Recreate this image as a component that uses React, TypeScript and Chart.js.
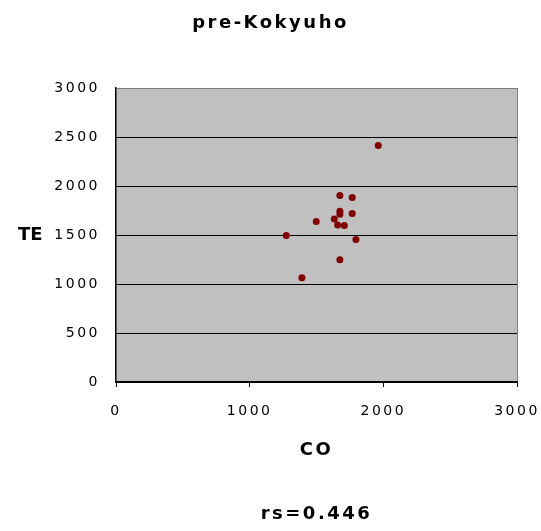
import React, { useEffect, useRef } from "react";
import { Chart, registerables } from "chart.js";

Chart.register(...registerables);

const chartTitle = "pre-Kokyuho";
const xTitle = "CO";
const yTitle = "TE";
const statText = "rs=0.446";

const coValues = [1962, 1675, 1767, 1675, 1675, 1767, 1498, 1633, 1658, 1708, 1274, 1795, 1675, 1391];
const teValues = [2414, 1903, 1882, 1742, 1712, 1719, 1637, 1664, 1602, 1596, 1494, 1453, 1248, 1064];

const xMin = 0, xMax = 3000, xStep = 1000;
const yMin = 0, yMax = 3000, yStep = 500;

const FONT = "'DejaVu Sans', sans-serif";
const SPACING = "2.5px";

const setSpacing = (chart: any) => {
  try { chart.ctx.letterSpacing = SPACING; } catch (e) {}
};

const plotBgPlugin = {
  id: "plotBg",
  beforeUpdate: (chart: any) => setSpacing(chart),
  beforeLayout: (chart: any) => setSpacing(chart),
  beforeDraw: (chart: any) => {
    setSpacing(chart);
    const { ctx, chartArea } = chart;
    ctx.save();
    ctx.fillStyle = "#c0c0c0";
    ctx.fillRect(chartArea.left, chartArea.top, chartArea.right - chartArea.left, chartArea.bottom - chartArea.top);
    ctx.restore();
  },
  afterDraw: (chart: any) => {
    const { ctx } = chart;
    ctx.save();
    try { ctx.letterSpacing = "0px"; } catch (e) {}
    ctx.font = `bold 18px ${FONT}`;
    ctx.fillStyle = "#000";
    ctx.textAlign = "left";
    ctx.textBaseline = "middle";
    const yMid = chart.scales.y.getPixelForValue(1500);
    ctx.fillText(yTitle, 18, yMid);
    ctx.restore();
  },
};

export default function App() {
  const ref = useRef<HTMLCanvasElement | null>(null);
  useEffect(() => {
    if (!ref.current) return;
    const points = coValues.map((x, i) => ({ x, y: teValues[i] }));
    const chart = new Chart(ref.current, {
      type: "scatter",
      data: {
        datasets: [
          {
            data: points,
            backgroundColor: "#800000",
            borderColor: "#800000",
            borderWidth: 0,
            pointRadius: 3.5,
            pointHoverRadius: 3.5,
          },
        ],
      },
      options: {
        responsive: false,
        animation: false,
        events: [],
        layout: { padding: 0 },
        plugins: {
          legend: { display: false },
          tooltip: { enabled: false },
          title: {
            display: true,
            text: chartTitle,
            color: "#000",
            font: { family: FONT, size: 18, weight: "bold" },
            padding: { top: 13, bottom: 53.4 },
          },
          subtitle: {
            display: true,
            position: "bottom",
            fullSize: false,
            text: statText,
            color: "#000",
            font: { family: FONT, size: 18, weight: "bold" },
            padding: { top: 0, bottom: 6 },
          },
        },
        scales: {
          x: {
            type: "linear",
            min: xMin,
            max: xMax,
            ticks: {
              stepSize: xStep,
              color: "#000",
              font: { family: FONT, size: 14 },
              padding: 16,
              maxRotation: 0,
              callback: (v: any) => String(v),
            },
            grid: {
              color: (c: any) => (c.tick && c.tick.value === xMax ? "#808080" : "rgba(0,0,0,0)"),
              tickColor: "#000",
              tickLength: 5,
              lineWidth: 1,
            },
            border: { display: true, color: "#000", width: 1.5 },
            title: {
              display: true,
              text: xTitle,
              color: "#000",
              font: { family: FONT, size: 18, weight: "bold" },
              padding: { top: 0, bottom: 42 },
            },
            afterFit: (s: any) => {
              s.height = 121.4;
              s.paddingLeft = 0;
              s.paddingRight = 24;
            },
          },
          y: {
            type: "linear",
            min: yMin,
            max: yMax,
            ticks: {
              stepSize: yStep,
              color: "#000",
              font: { family: FONT, size: 14 },
              padding: 16,
              callback: (v: any) => String(v),
            },
            grid: {
              color: (c: any) =>
                c.tick && c.tick.value === yMax ? "#808080" : "#000",
              drawTicks: false,
              tickLength: 0,
              lineWidth: 1,
            },
            border: { display: true, color: "#000", width: 1.5 },
            afterFit: (s: any) => {
              s.width = 116;
              s.paddingTop = 0;
              s.paddingBottom = 0;
            },
          },
        },
      },
      plugins: [plotBgPlugin],
    } as any);
    return () => chart.destroy();
  }, []);
  return (
    <div style={{ position: "absolute", left: 0, top: 0, width: 541, height: 531, background: "#fff" }}>
      <canvas ref={ref} width={541} height={531} />
    </div>
  );
}
